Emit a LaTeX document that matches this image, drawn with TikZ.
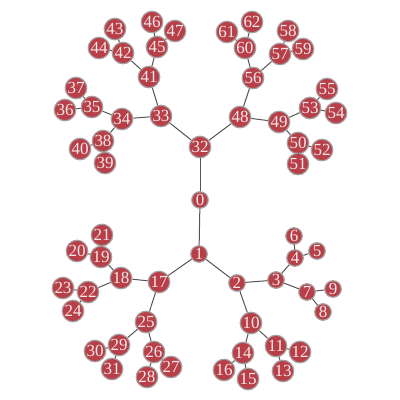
\documentclass[tikz,border=0pt]{standalone}
\usepackage{fontspec}
\setmainfont{Liberation Serif}
\definecolor{nodefill}{RGB}{184,62,72}
\definecolor{nodeborder}{RGB}{165,160,160}
\definecolor{nodetext}{RGB}{245,232,232}
\definecolor{edgecol}{RGB}{85,85,85}
\tikzset{
  vtx/.style={circle, fill=nodefill, draw=nodeborder, line width=1.2pt, inner sep=0pt,
    minimum size=21.5pt, text=nodetext, font=\fontsize{17}{17}\selectfont},
  vsm/.style={vtx, minimum size=16.5pt},
  edge/.style={draw=edgecol, line width=1pt}
}
\begin{document}
\begin{tikzpicture}[x=1pt,y=-1pt]
\useasboundingbox (0,0) rectangle (400,400);
\node[vsm] (n0) at (200,200) {0};
\node[vsm] (n1) at (199,254) {1};
\node[vsm] (n2) at (237,283) {2};
\node[vsm] (n3) at (276,280) {3};
\node[vsm] (n4) at (295,258) {4};
\node[vsm] (n5) at (317,251) {5};
\node[vsm] (n6) at (294,236) {6};
\node[vsm] (n7) at (307,292) {7};
\node[vsm] (n8) at (323,312) {8};
\node[vsm] (n9) at (333,289) {9};
\node[vtx] (n10) at (251,323) {10};
\node[vtx] (n11) at (276,346) {11};
\node[vtx] (n12) at (300,352) {12};
\node[vtx] (n13) at (283,371) {13};
\node[vtx] (n14) at (243,353) {14};
\node[vtx] (n15) at (248,379) {15};
\node[vtx] (n16) at (224,370) {16};
\node[vtx] (n17) at (159,282) {17};
\node[vtx] (n18) at (121,278) {18};
\node[vtx] (n19) at (101,257) {19};
\node[vtx] (n20) at (77,251) {20};
\node[vtx] (n21) at (102,235) {21};
\node[vtx] (n22) at (88,292) {22};
\node[vtx] (n23) at (63,288) {23};
\node[vtx] (n24) at (73,311) {24};
\node[vtx] (n25) at (146,322) {25};
\node[vtx] (n26) at (154,352) {26};
\node[vtx] (n27) at (171,367) {27};
\node[vtx] (n28) at (147,377) {28};
\node[vtx] (n29) at (119,345) {29};
\node[vtx] (n30) at (95,351) {30};
\node[vtx] (n31) at (112,369) {31};
\node[vtx] (n32) at (200,147) {32};
\node[vtx] (n33) at (161,116) {33};
\node[vtx] (n34) at (122,119) {34};
\node[vtx] (n35) at (92,107) {35};
\node[vtx] (n36) at (65,110) {36};
\node[vtx] (n37) at (76,88) {37};
\node[vtx] (n38) at (103,141) {38};
\node[vtx] (n39) at (105,163) {39};
\node[vtx] (n40) at (80,149) {40};
\node[vtx] (n41) at (149,77) {41};
\node[vtx] (n43) at (115,29) {43};
\node[vtx] (n44) at (99,48) {44};
\node[vtx] (n42) at (123,53) {42};
\node[vtx] (n46) at (152,22) {46};
\node[vtx] (n47) at (175,31) {47};
\node[vtx] (n45) at (157,47) {45};
\node[vtx] (n48) at (240,117) {48};
\node[vtx] (n49) at (279,122) {49};
\node[vtx] (n50) at (298,143) {50};
\node[vtx] (n51) at (298,164) {51};
\node[vtx] (n52) at (322,150) {52};
\node[vtx] (n53) at (310,108) {53};
\node[vtx] (n54) at (336,113) {54};
\node[vtx] (n55) at (327,89) {55};
\node[vtx] (n56) at (253,78) {56};
\node[vtx] (n57) at (280,54) {57};
\node[vtx] (n58) at (288,31) {58};
\node[vtx] (n59) at (303,49) {59};
\node[vtx] (n60) at (245,48) {60};
\node[vtx] (n61) at (227,32) {61};
\node[vtx] (n62) at (252,22) {62};
\foreach \a/\b in {0/32,0/1,1/2,1/17,2/3,2/10,3/4,3/7,4/5,4/6,7/8,7/9,10/11,10/14,11/12,11/13,14/15,14/16,17/18,17/25,18/19,18/22,19/20,19/21,22/23,22/24,25/26,25/29,26/27,26/28,29/30,29/31,32/33,32/48,33/34,33/41,34/35,34/38,35/36,35/37,38/39,38/40,41/42,41/45,42/43,42/44,45/46,45/47,48/49,48/56,49/50,49/53,50/51,50/52,53/54,53/55,56/57,56/60,57/58,57/59,60/61,60/62}
  \draw[edge] (n\a) -- (n\b);
\end{tikzpicture}
\end{document}
